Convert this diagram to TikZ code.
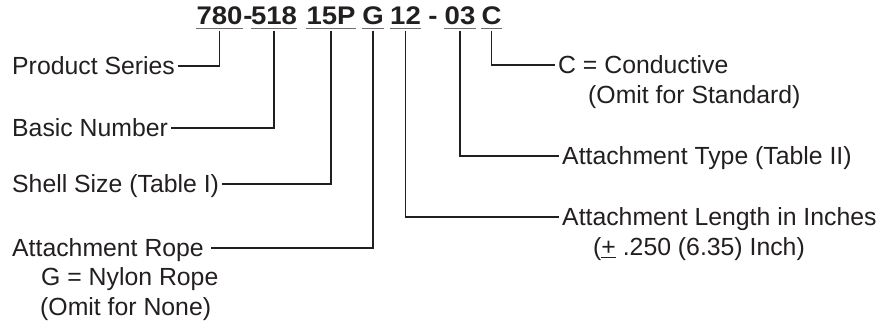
\documentclass[tikz,border=0pt]{standalone}
\usepackage{fontspec}
\setmainfont{Liberation Sans}
\newfontfamily\codefont[FakeStretch=1.08]{Liberation Sans}
\definecolor{ink}{HTML}{231F20}
\definecolor{rule}{HTML}{6E6E6E}
\tikzset{
  part/.style={font=\codefont\bfseries\fontsize{25.5}{28}\selectfont, text=ink, anchor=base,
    inner xsep=0pt, inner ysep=6pt, text depth=0pt},
  lbl/.style={font=\fontsize{24.8}{28}\selectfont, text=ink, inner xsep=3pt, inner ysep=0pt,
    text height=17.8pt, text depth=0pt},
  lead/.style={draw=ink, line width=1.6pt},
  uline/.style={draw=rule, line width=1.5pt}
}
\begin{document}
\begin{tikzpicture}[x=1pt,y=-1pt]
\useasboundingbox (0,0) rectangle (888,321);
% part number
\node[part] (n780) at (219.5,24.5) {780};
\node[part] (dasha) at (248,24.5) {-};
\node[part] (n518) at (274,24.5) {518};
\node[part] (n15p) at (331,24.5) {15P};
\node[part] (ng) at (373,24.5) {G};
\node[part] (n12) at (405.5,24.5) {12};
\node[part] (dashb) at (433,24.5) {-};
\node[part] (n03) at (460,24.5) {03};
\node[part] (nc) at (491.5,24.5) {C};
\foreach \p in {n780,n518,n15p,ng,n12,n03,nc}
  \draw[uline] ([yshift=-4pt]\p.base west) -- ([yshift=-4pt]\p.base east);
% left side
\node[lbl, anchor=west] (series) at (9,66) {Product Series};
\node[lbl, anchor=west] (basic) at (9,128) {Basic Number};
\node[lbl, anchor=west] (shell) at (9,184) {Shell Size (Table I)};
\node[lbl, anchor=west] (rope) at (9,248) {Attachment Rope\,};
\node[lbl, anchor=west] (ropeg) at (38,277) {G = Nylon Rope};
\node[lbl, anchor=west] (ropenone) at (37,307) {(Omit for None)};
% right side
\node[lbl, anchor=west] (cond) at (555,65) {C = Conductive};
\node[lbl, anchor=west] (condstd) at (585,95) {(Omit for Standard)};
\node[lbl, anchor=west] (atype) at (559,156) {Attachment Type (Table II)};
\node[lbl, anchor=west] (alen) at (559,217) {Attachment Length in Inches};
\node[lbl, anchor=west] (alentol) at (590,247) {(\underline{+} .250 (6.35) Inch)};
% leaders
\draw[lead] (n780.south) |- (series.east);
\draw[lead] (n518.south) |- (basic.east);
\draw[lead] (n15p.south) |- (shell.east);
\draw[lead] (ng.south) |- (rope.east);
\draw[lead] (n12.south) |- (alen.west);
\draw[lead] (n03.south) |- (atype.west);
\draw[lead] (nc.south) |- (cond.west);
\end{tikzpicture}
\end{document}
